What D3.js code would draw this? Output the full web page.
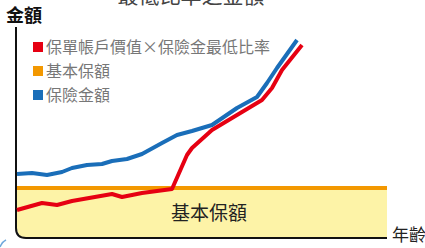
<!DOCTYPE html>
<html>
<head>
<meta charset="utf-8">
<script src="https://cdn.jsdelivr.net/npm/d3@7"></script>
<style>
	body { margin: 0; background: #fff; }
	svg { display: block; font-family: "Noto Sans CJK TC", "Noto Sans", sans-serif; }
</style>
</head>
<body>
<svg id="chart" width="425" height="248"></svg>
<script>
// ages
var blueAges = [20, 23, 26, 29, 31, 34, 37, 39, 42, 45, 49, 52, 55, 59, 64, 68, 70, 72, 76];
var blueValues = [128, 130, 126, 132, 140, 146, 148, 154, 158, 168, 190, 206, 214, 226, 260, 282, 310, 340, 396];
var redAges = [20, 25, 28, 31, 39, 41, 45, 51, 54, 55, 59, 65, 69, 71, 73, 77];
var redValues = [56, 70, 66, 74, 88, 82, 90, 98, 166, 180, 216, 252, 276, 300, 336, 386];
var baseAmount = [100];
var legendLabels = ["保單帳戶價值×保險金最低比率", "基本保額", "保險金額"];
var legendColors = ["#e60012", "#f39800", "#1a6eb9"];

var svg = d3.select("#chart");

var x = d3.scaleLinear().domain([20, 94]).range([17, 387]);
var y = d3.scaleLinear().domain([0, 400]).range([238, 38]);

// yellow band for basic amount, rounded at bottom-left like the axis
var x0 = x(20), x1 = x(94), yb = y(baseAmount[0]), y0 = y(0);
svg.append("path")
	.attr("d", "M" + x0 + "," + yb + "H" + x1 + "V" + y0 + "H" + (x0 + 10) +
		"Q" + x0 + "," + y0 + " " + x0 + "," + (y0 - 10) + "Z")
	.attr("fill", "#fdf3a7");

svg.append("line")
	.attr("x1", x0).attr("x2", x1)
	.attr("y1", yb).attr("y2", yb)
	.attr("stroke", "#f39800")
	.attr("stroke-width", 4);

svg.append("text")
	.attr("x", 209)
	.attr("y", 220)
	.attr("text-anchor", "middle")
	.attr("fill", "#222")
	.style("font-size", "19px")
	.text("基本保額");

// axes
svg.append("path")
	.attr("d", "M" + (x0 - 1) + ",27V" + (y0 - 10) + "Q" + (x0 - 1) + "," + y0 + " " + (x0 + 9) + "," + y0 + "H" + x1)
	.attr("fill", "none")
	.attr("stroke", "#111")
	.attr("stroke-width", 2);

var line = d3.line()
	.x(function(d) { return x(d[0]); })
	.y(function(d) { return y(d[1]); });

svg.append("path")
	.datum(d3.zip(blueAges, blueValues))
	.attr("d", line)
	.attr("fill", "none")
	.attr("stroke", "#1a6eb9")
	.attr("stroke-width", 4)
	.attr("stroke-linejoin", "round");

svg.append("path")
	.datum(d3.zip(redAges, redValues))
	.attr("d", line)
	.attr("fill", "none")
	.attr("stroke", "#e60012")
	.attr("stroke-width", 4)
	.attr("stroke-linejoin", "round");

// legend
var legend = svg.selectAll(".legend")
	.data(legendLabels)
	.enter()
	.append("g")
	.attr("class", "legend")
	.attr("transform", function(d, i) { return "translate(33," + (47 + i * 24) + ")"; });

legend.append("rect")
	.attr("x", 0).attr("y", -5)
	.attr("width", 10).attr("height", 10)
	.attr("fill", function(d, i) { return legendColors[i]; });

legend.append("text")
	.attr("x", 13)
	.attr("y", 6)
	.attr("fill", "#777")
	.style("font-size", "16px")
	.text(function(d) { return d; });

// titles
svg.append("text")
	.attr("x", 191)
	.attr("y", 3)
	.attr("text-anchor", "middle")
	.attr("fill", "#444")
	.style("font-size", "21px")
	.text("最低比率之金額");

svg.append("text")
	.attr("x", 6)
	.attr("y", 22)
	.attr("fill", "#111")
	.style("font-size", "18px")
	.style("font-weight", "bold")
	.text("金額");

svg.append("text")
	.attr("x", 392)
	.attr("y", 241)
	.attr("fill", "#222")
	.style("font-size", "17px")
	.text("年齡");

// small blue arc at bottom-left corner
svg.append("path")
	.attr("d", "M0,247Q2,242 6,240")
	.attr("fill", "none")
	.attr("stroke", "#6fa8dc")
	.attr("stroke-width", 1.5);
</script>
</body>
</html>
